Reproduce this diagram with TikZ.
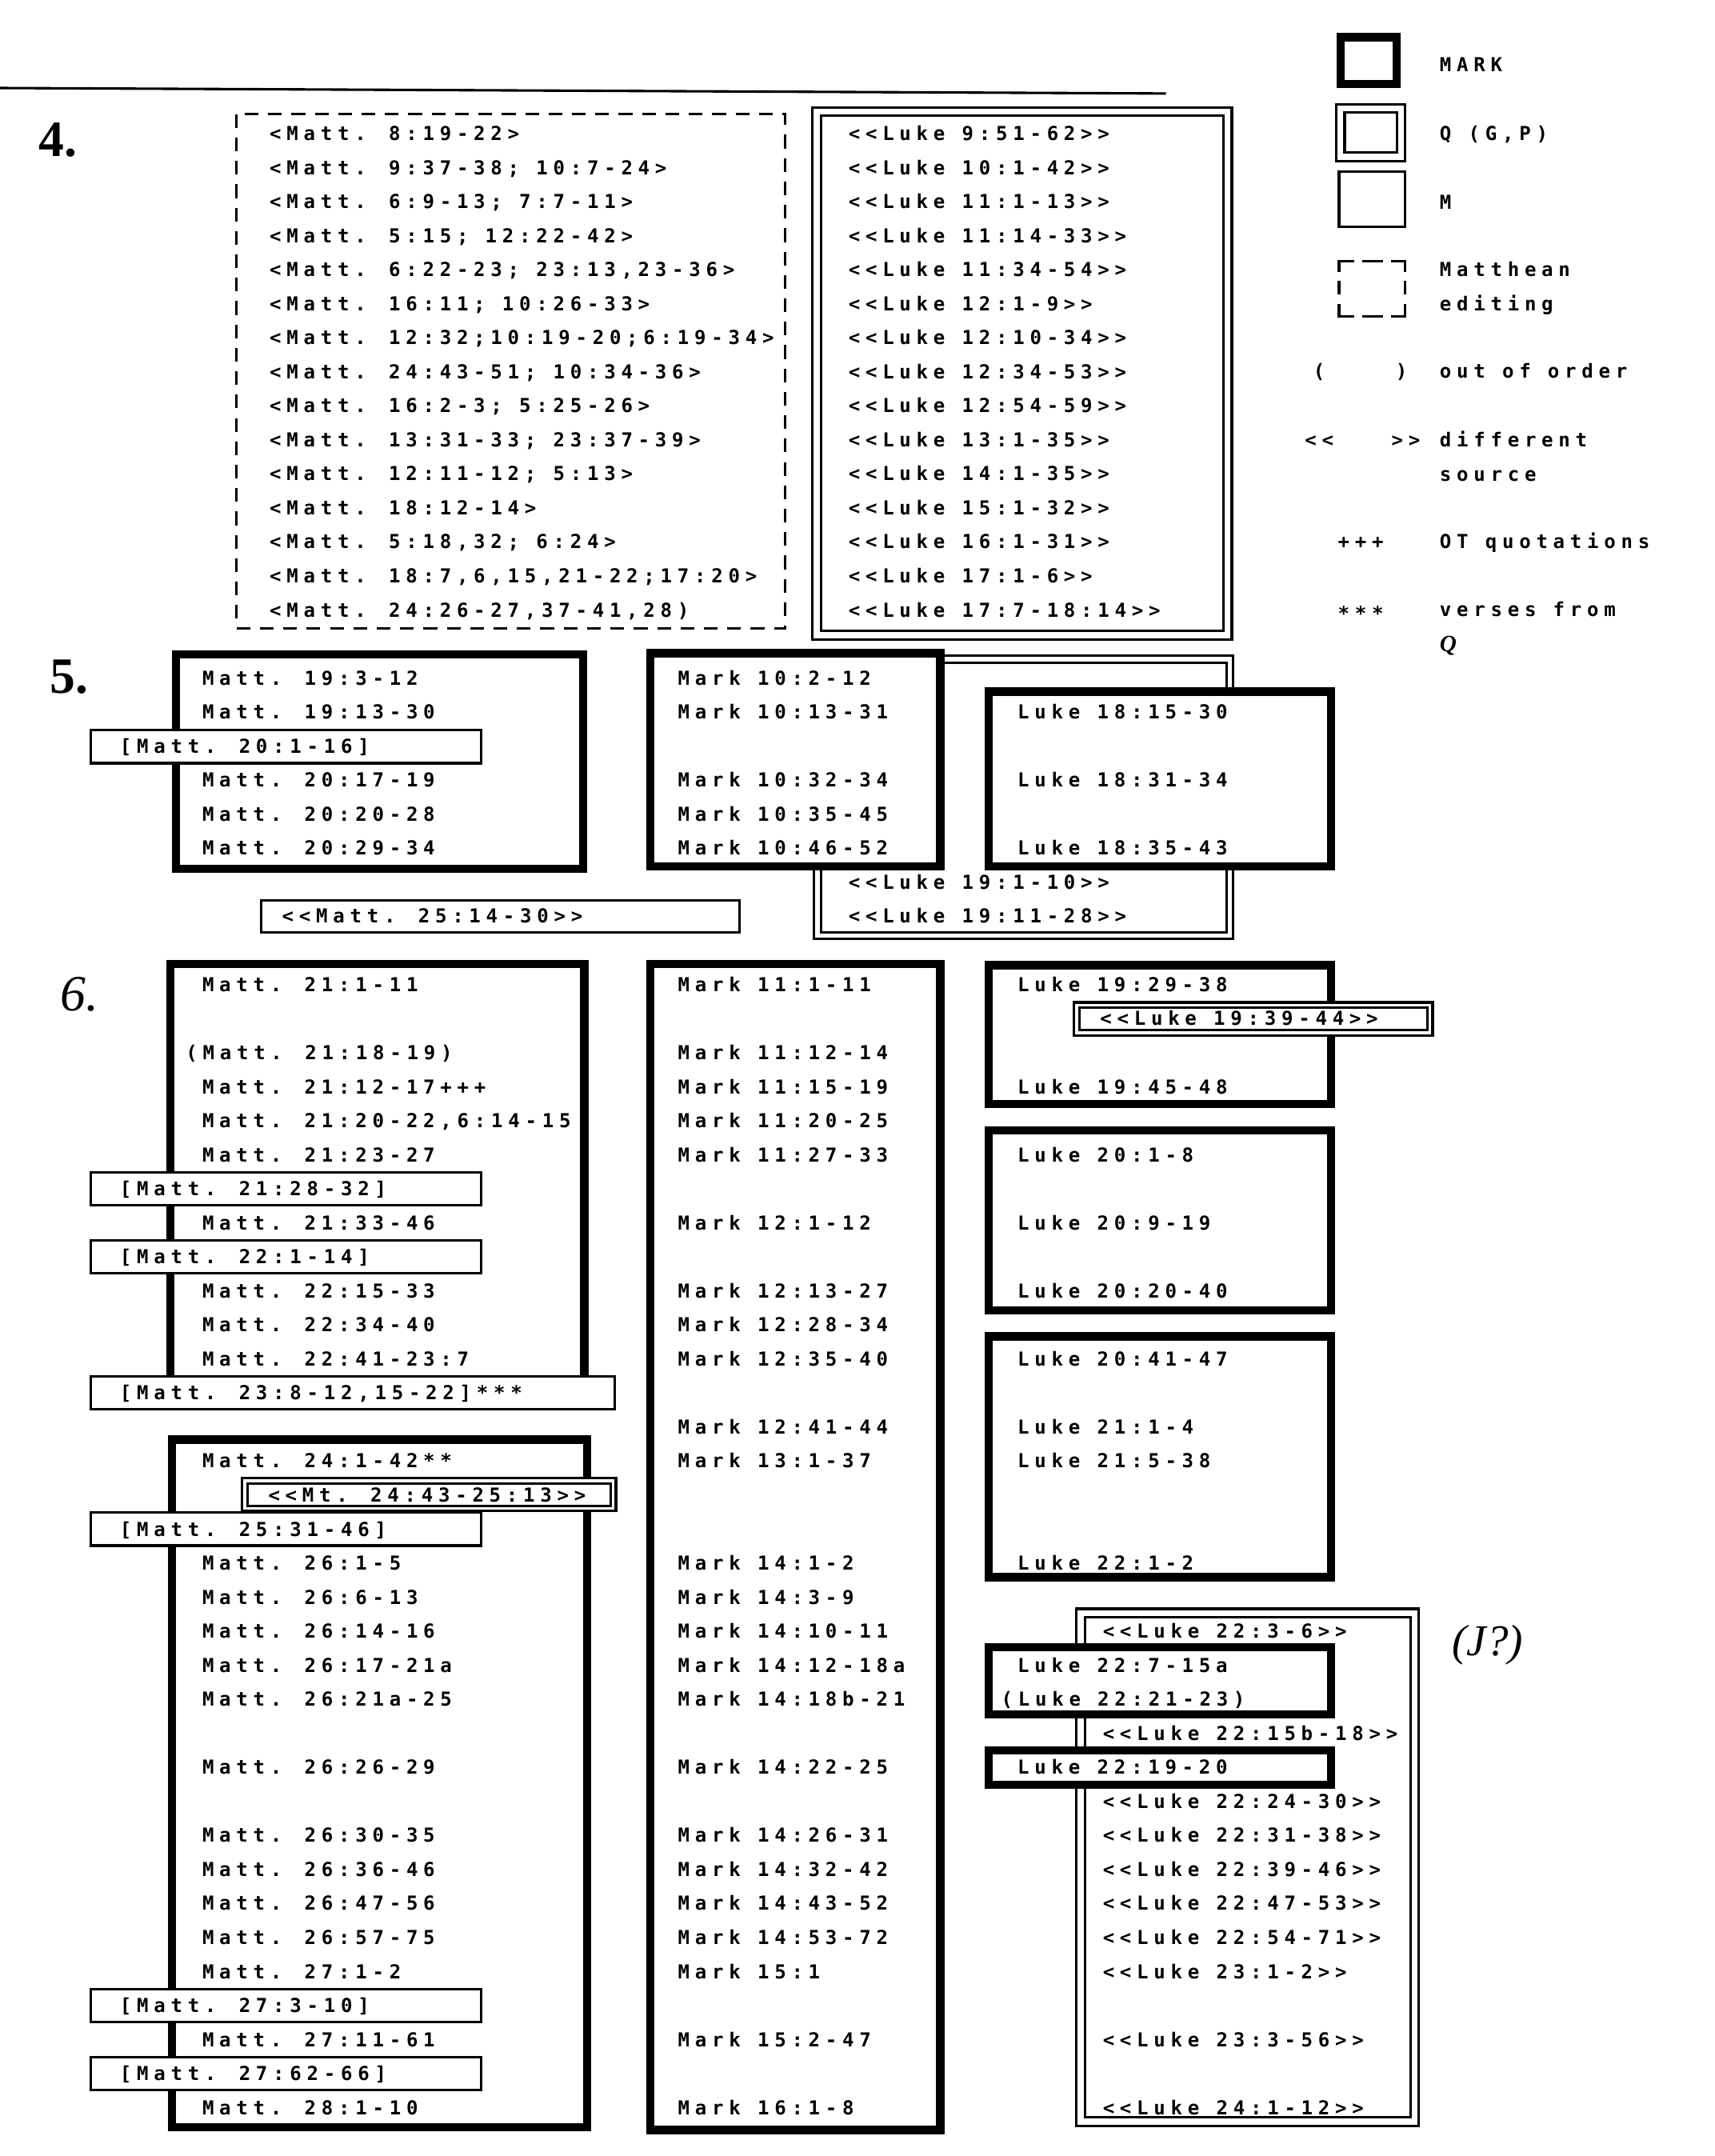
\documentclass[tikz,border=0pt]{standalone}
\usepackage{fontspec}
\newfontfamily\mono[LetterSpace=28,Ligatures={TeXOff}]{DejaVu Sans Mono}
\newfontfamily\hand{Liberation Serif}
\tikzset{
  txt/.style={font={\fontsize{14}{16}\selectfont\mono\bfseries}, inner sep=0pt, anchor=base west},
  num/.style={font={\fontsize{37}{37}\selectfont\hand\bfseries}, inner sep=0pt, anchor=base west},
  markbox/.style={line width=6pt, fill=white},
  mbox/.style={line width=1.9pt, fill=white},
  qline/.style={line width=1.8pt},
  dashbox/.style={line width=2pt, dash pattern=on 10pt off 7pt},
  legline/.style={line width=2pt}
}
\newcommand\tx[5]{\node[txt] (#1) at (#2,{#3+24.75*#4+5.1}) {#5};}
\newcommand\dbl[5]{%
  \draw[qline,fill=white] (#2,#3) rectangle (#4,#5);
  \draw[qline] ({#2+#1},{#3+#1}) rectangle ({#4-#1},{#5-#1});}
\begin{document}
\begin{tikzpicture}[x=1pt,y=-1pt]
\useasboundingbox (0,0) rectangle (1247,1568);
\fill[white] (0,0) rectangle (1247,1568);

% top rule
\draw[line width=1.8pt] (0,64) -- (848,68);

% ---------- legend ----------
\draw[markbox] (975,27) rectangle (1016,61);
\dbl{6}{972}{76}{1022}{117}
\draw[mbox] (974,125) rectangle (1022,165);
\draw[legline] (985,190) -- (974,190) -- (974,198);
\draw[legline] (991,190) -- (1006,190);
\draw[legline] (1012,190) -- (1022,190) -- (1022,198);
\draw[legline] (974,204) -- (974,214);
\draw[legline] (1022,204) -- (1022,214);
\draw[legline] (974,221) -- (974,230) -- (985,230);
\draw[legline] (991,230) -- (1006,230);
\draw[legline] (1012,230) -- (1022,230) -- (1022,221);

% ---------- section 4 boxes ----------
\draw[dashbox] (172,83) rectangle (571,457);
\dbl{6}{591}{78}{896}{465}

% ---------- section 5 boxes ----------
\draw[markbox] (128,476) rectangle (424,632);
\draw[mbox] (66,531) rectangle (350,555);
\dbl{5}{592}{477}{897}{683}
\draw[markbox] (473,475) rectangle (684,630);
\draw[markbox] (719,503) rectangle (968,630);
\draw[mbox] (190,655) rectangle (538,678);

% ---------- section 6 boxes ----------
\draw[markbox] (124,701) rectangle (425,1012);
\draw[mbox] (66,852.5) rectangle (350,876.5);
\draw[mbox] (66,902) rectangle (350,926);
\draw[mbox] (66,1001) rectangle (447,1025);
\draw[markbox] (125,1047) rectangle (427,1547);
\dbl{4}{176}{1075}{448}{1099}
\draw[mbox] (66,1100) rectangle (350,1124);
\draw[mbox] (66,1446.5) rectangle (350,1470.5);
\draw[mbox] (66,1496) rectangle (350,1520);
\draw[markbox] (473,701) rectangle (684,1549);
\draw[markbox] (719,702) rectangle (968,803);
\dbl{4}{781}{729}{1042}{753}
\draw[markbox] (719,822) rectangle (968,953);
\draw[markbox] (719,972) rectangle (968,1147);
\dbl{6}{783}{1170}{1032}{1546}
\draw[markbox] (719,1198) rectangle (968,1247);
\draw[markbox] (719,1273) rectangle (968,1298);

% ---------- numbers ----------
\node[num] (n4) at (28,114) {4.};
\node[num] (n5) at (36,504) {5.};
\node[num] (n6) at (44,735) {\mdseries\itshape 6.};
\node[font={\fontsize{32}{32}\selectfont\hand\itshape}, inner sep=0pt, anchor=base west] (jq) at (1056,1204) {(J?)};

% ---------- legend text ----------
\tx{l1}{1047}{47}{0}{MARK}
\tx{l2}{1047}{97}{0}{Q (G,P)}
\tx{l3}{1047}{147}{0}{M}
\tx{l4}{1047}{196}{0}{Matthean}
\tx{l5}{1047}{221}{0}{editing}
\tx{l6a}{955}{270}{0}{(}
\tx{l6b}{1015}{270}{0}{)}
\tx{l6}{1047}{270}{0}{out of order}
\tx{l7a}{949}{320}{0}{<<}
\tx{l7b}{1012}{320}{0}{>>}
\tx{l7}{1047}{320}{0}{different}
\tx{l8}{1047}{345}{0}{source}
\tx{l9a}{973}{394}{0}{+++}
\tx{l9}{1047}{394}{0}{OT quotations}
\tx{l10a}{973}{446}{0}{***}
\tx{l10}{1047}{443}{0}{verses from}
\node[font={\fontsize{17}{17}\selectfont\hand\itshape\bfseries}, inner sep=0pt, anchor=base west] (l11) at (1047,474) {Q};

% ---------- section 4 text ----------
\tx{f0}{196}{97}{0}{<Matt. 8:19-22>}
\tx{f1}{196}{97}{1}{<Matt. 9:37-38; 10:7-24>}
\tx{f2}{196}{97}{2}{<Matt. 6:9-13; 7:7-11>}
\tx{f3}{196}{97}{3}{<Matt. 5:15; 12:22-42>}
\tx{f4}{196}{97}{4}{<Matt. 6:22-23; 23:13,23-36>}
\tx{f5}{196}{97}{5}{<Matt. 16:11; 10:26-33>}
\tx{f6}{196}{97}{6}{<Matt. 12:32;10:19-20;6:19-34>}
\tx{f7}{196}{97}{7}{<Matt. 24:43-51; 10:34-36>}
\tx{f8}{196}{97}{8}{<Matt. 16:2-3; 5:25-26>}
\tx{f9}{196}{97}{9}{<Matt. 13:31-33; 23:37-39>}
\tx{f10}{196}{97}{10}{<Matt. 12:11-12; 5:13>}
\tx{f11}{196}{97}{11}{<Matt. 18:12-14>}
\tx{f12}{196}{97}{12}{<Matt. 5:18,32; 6:24>}
\tx{f13}{196}{97}{13}{<Matt. 18:7,6,15,21-22;17:20>}
\tx{f14}{196}{97}{14}{<Matt. 24:26-27,37-41,28)}

\tx{g0}{617}{97}{0}{<<Luke 9:51-62>>}
\tx{g1}{617}{97}{1}{<<Luke 10:1-42>>}
\tx{g2}{617}{97}{2}{<<Luke 11:1-13>>}
\tx{g3}{617}{97}{3}{<<Luke 11:14-33>>}
\tx{g4}{617}{97}{4}{<<Luke 11:34-54>>}
\tx{g5}{617}{97}{5}{<<Luke 12:1-9>>}
\tx{g6}{617}{97}{6}{<<Luke 12:10-34>>}
\tx{g7}{617}{97}{7}{<<Luke 12:34-53>>}
\tx{g8}{617}{97}{8}{<<Luke 12:54-59>>}
\tx{g9}{617}{97}{9}{<<Luke 13:1-35>>}
\tx{g10}{617}{97}{10}{<<Luke 14:1-35>>}
\tx{g11}{617}{97}{11}{<<Luke 15:1-32>>}
\tx{g12}{617}{97}{12}{<<Luke 16:1-31>>}
\tx{g13}{617}{97}{13}{<<Luke 17:1-6>>}
\tx{g14}{617}{97}{14}{<<Luke 17:7-18:14>>}

% ---------- section 5 text ----------
\tx{h0}{147}{493}{0}{Matt. 19:3-12}
\tx{h1}{147}{493}{1}{Matt. 19:13-30}
\tx{h2}{87}{493}{2}{[Matt. 20:1-16]}
\tx{h3}{147}{493}{3}{Matt. 20:17-19}
\tx{h4}{147}{493}{4}{Matt. 20:20-28}
\tx{h5}{147}{493}{5}{Matt. 20:29-34}
\tx{h7}{205}{493}{7}{<<Matt. 25:14-30>>}
\tx{i0}{493}{493}{0}{Mark 10:2-12}
\tx{i1}{493}{493}{1}{Mark 10:13-31}
\tx{i3}{493}{493}{3}{Mark 10:32-34}
\tx{i4}{493}{493}{4}{Mark 10:35-45}
\tx{i5}{493}{493}{5}{Mark 10:46-52}
\tx{j1}{740}{493}{1}{Luke 18:15-30}
\tx{j3}{740}{493}{3}{Luke 18:31-34}
\tx{j5}{740}{493}{5}{Luke 18:35-43}
\tx{j6}{617}{493}{6}{<<Luke 19:1-10>>}
\tx{j7}{617}{493}{7}{<<Luke 19:11-28>>}

% ---------- section 6 text: Matthew ----------
\tx{p0}{147}{716}{0}{Matt. 21:1-11}
\tx{p2}{135}{716}{2}{(Matt. 21:18-19)}
\tx{p3}{147}{716}{3}{Matt. 21:12-17+++}
\tx{p4}{147}{716}{4}{Matt. 21:20-22,6:14-15}
\tx{p5}{147}{716}{5}{Matt. 21:23-27}
\tx{p6}{87}{716}{6}{[Matt. 21:28-32]}
\tx{p7}{147}{716}{7}{Matt. 21:33-46}
\tx{p8}{87}{716}{8}{[Matt. 22:1-14]}
\tx{p9}{147}{716}{9}{Matt. 22:15-33}
\tx{p10}{147}{716}{10}{Matt. 22:34-40}
\tx{p11}{147}{716}{11}{Matt. 22:41-23:7}
\tx{p12}{87}{716}{12}{[Matt. 23:8-12,15-22]***}
\tx{p14}{147}{716}{14}{Matt. 24:1-42**}
\tx{p15}{195}{716}{15}{<<Mt. 24:43-25:13>>}
\tx{p16}{87}{716}{16}{[Matt. 25:31-46]}
\tx{p17}{147}{716}{17}{Matt. 26:1-5}
\tx{p18}{147}{716}{18}{Matt. 26:6-13}
\tx{p19}{147}{716}{19}{Matt. 26:14-16}
\tx{p20}{147}{716}{20}{Matt. 26:17-21a}
\tx{p21}{147}{716}{21}{Matt. 26:21a-25}
\tx{p23}{147}{716}{23}{Matt. 26:26-29}
\tx{p25}{147}{716}{25}{Matt. 26:30-35}
\tx{p26}{147}{716}{26}{Matt. 26:36-46}
\tx{p27}{147}{716}{27}{Matt. 26:47-56}
\tx{p28}{147}{716}{28}{Matt. 26:57-75}
\tx{p29}{147}{716}{29}{Matt. 27:1-2}
\tx{p30}{87}{716}{30}{[Matt. 27:3-10]}
\tx{p31}{147}{716}{31}{Matt. 27:11-61}
\tx{p32}{87}{716}{32}{[Matt. 27:62-66]}
\tx{p33}{147}{716}{33}{Matt. 28:1-10}

% ---------- section 6 text: Mark ----------
\tx{q0}{493}{716}{0}{Mark 11:1-11}
\tx{q2}{493}{716}{2}{Mark 11:12-14}
\tx{q3}{493}{716}{3}{Mark 11:15-19}
\tx{q4}{493}{716}{4}{Mark 11:20-25}
\tx{q5}{493}{716}{5}{Mark 11:27-33}
\tx{q7}{493}{716}{7}{Mark 12:1-12}
\tx{q9}{493}{716}{9}{Mark 12:13-27}
\tx{q10}{493}{716}{10}{Mark 12:28-34}
\tx{q11}{493}{716}{11}{Mark 12:35-40}
\tx{q13}{493}{716}{13}{Mark 12:41-44}
\tx{q14}{493}{716}{14}{Mark 13:1-37}
\tx{q17}{493}{716}{17}{Mark 14:1-2}
\tx{q18}{493}{716}{18}{Mark 14:3-9}
\tx{q19}{493}{716}{19}{Mark 14:10-11}
\tx{q20}{493}{716}{20}{Mark 14:12-18a}
\tx{q21}{493}{716}{21}{Mark 14:18b-21}
\tx{q23}{493}{716}{23}{Mark 14:22-25}
\tx{q25}{493}{716}{25}{Mark 14:26-31}
\tx{q26}{493}{716}{26}{Mark 14:32-42}
\tx{q27}{493}{716}{27}{Mark 14:43-52}
\tx{q28}{493}{716}{28}{Mark 14:53-72}
\tx{q29}{493}{716}{29}{Mark 15:1}
\tx{q31}{493}{716}{31}{Mark 15:2-47}
\tx{q33}{493}{716}{33}{Mark 16:1-8}

% ---------- section 6 text: Luke ----------
\tx{r0}{740}{716}{0}{Luke 19:29-38}
\tx{r1}{800}{716}{1}{<<Luke 19:39-44>>}
\tx{r3}{740}{716}{3}{Luke 19:45-48}
\tx{r5}{740}{716}{5}{Luke 20:1-8}
\tx{r7}{740}{716}{7}{Luke 20:9-19}
\tx{r9}{740}{716}{9}{Luke 20:20-40}
\tx{r11}{740}{716}{11}{Luke 20:41-47}
\tx{r13}{740}{716}{13}{Luke 21:1-4}
\tx{r14}{740}{716}{14}{Luke 21:5-38}
\tx{r17}{740}{716}{17}{Luke 22:1-2}
\tx{r19}{802}{716}{19}{<<Luke 22:3-6>>}
\tx{r20}{740}{716}{20}{Luke 22:7-15a}
\tx{r21}{728}{716}{21}{(Luke 22:21-23)}
\tx{r22}{802}{716}{22}{<<Luke 22:15b-18>>}
\tx{r23}{740}{716}{23}{Luke 22:19-20}
\tx{r24}{802}{716}{24}{<<Luke 22:24-30>>}
\tx{r25}{802}{716}{25}{<<Luke 22:31-38>>}
\tx{r26}{802}{716}{26}{<<Luke 22:39-46>>}
\tx{r27}{802}{716}{27}{<<Luke 22:47-53>>}
\tx{r28}{802}{716}{28}{<<Luke 22:54-71>>}
\tx{r29}{802}{716}{29}{<<Luke 23:1-2>>}
\tx{r31}{802}{716}{31}{<<Luke 23:3-56>>}
\tx{r33}{802}{716}{33}{<<Luke 24:1-12>>}
\end{tikzpicture}
\end{document}
